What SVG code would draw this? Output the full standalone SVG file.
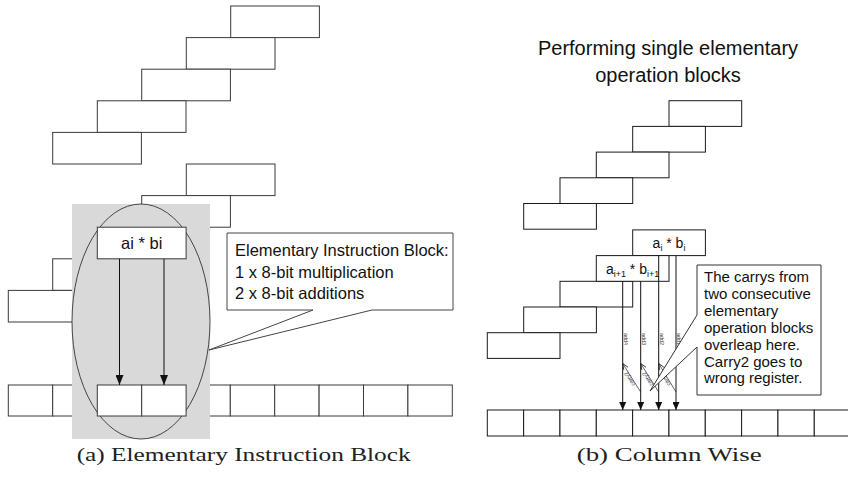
<svg xmlns="http://www.w3.org/2000/svg" width="848" height="477" viewBox="0 0 848 477">
<defs>
<style>
.blk{fill:#fff;stroke:#3a3a3a;stroke-width:1}
.rblk{fill:#fff;stroke:#1a1a1a;stroke-width:1}
.t{font-family:"Liberation Sans",Arial,sans-serif;fill:#111}
.cap{font-family:"Liberation Serif","Times New Roman",serif;font-size:18px;fill:#222}
.arr{stroke:#111;stroke-width:1;fill:none}
.lbl{font-family:"Liberation Sans",Arial,sans-serif;font-size:5.5px;fill:#333}
.carry{stroke:#222;stroke-width:0.7;fill:none}
</style>
<marker id="ahL" markerUnits="userSpaceOnUse" markerWidth="10" markerHeight="8" viewBox="0 0 10 8" refX="10" refY="4" orient="auto"><path d="M0,0 L10,4 L0,8 Z" fill="#111"/></marker>
<marker id="ahR" markerUnits="userSpaceOnUse" markerWidth="8" markerHeight="7" viewBox="0 0 8 7" refX="8" refY="3.5" orient="auto"><path d="M0,0 L8,3.5 L0,7 Z" fill="#111"/></marker>
<marker id="ahO" markerUnits="userSpaceOnUse" markerWidth="7" markerHeight="6" viewBox="0 0 7 6" refX="6.5" refY="3" orient="auto"><path d="M0.5,0.5 L6.5,3 L0.5,5.5" fill="none" stroke="#222" stroke-width="0.8"/></marker>
</defs>

<!-- LEFT PANEL -->
<g id="stair-left-upper">
<rect class="blk" x="230.7" y="6" width="88.7" height="31.6"/>
<rect class="blk" x="186.3" y="37.6" width="88.7" height="31.6"/>
<rect class="blk" x="141.7" y="69.2" width="88.7" height="31.6"/>
<rect class="blk" x="97.3" y="100.8" width="88.7" height="31.6"/>
<rect class="blk" x="52.7" y="132.4" width="88.7" height="31.6"/>
</g>
<g id="stair-left-lower">
<rect class="blk" x="186.3" y="164" width="88.7" height="31.6"/>
<rect class="blk" x="141.7" y="195.6" width="88.7" height="31.6"/>
<rect class="blk" x="52.7" y="258.8" width="88.7" height="31.6"/>
<rect class="blk" x="8.3" y="290.4" width="88.7" height="31.6"/>
</g>
<g id="row-left">
<rect class="blk" x="8.3" y="385" width="44.4" height="31"/>
<rect class="blk" x="52.7" y="385" width="44.4" height="31"/>
<rect class="blk" x="97.1" y="385" width="44.4" height="31"/>
<rect class="blk" x="141.5" y="385" width="44.4" height="31"/>
<rect class="blk" x="185.9" y="385" width="44.4" height="31"/>
<rect class="blk" x="230.3" y="385" width="44.4" height="31"/>
<rect class="blk" x="274.7" y="385" width="44.4" height="31"/>
<rect class="blk" x="319.1" y="385" width="44.4" height="31"/>
<rect class="blk" x="363.5" y="385" width="44.4" height="31"/>
<rect class="blk" x="407.9" y="385" width="44.4" height="31"/>
</g>
<g id="highlight">
<rect x="72" y="204" width="138" height="235" fill="#d9d9d9"/>
<ellipse cx="141" cy="321.5" rx="69" ry="117.5" fill="none" stroke="#333" stroke-width="0.9"/>
</g>
<g id="target-cells">
<rect class="blk" x="97.3" y="385" width="44.4" height="31"/>
<rect class="blk" x="141.7" y="385" width="44.4" height="31"/>
</g>
<g id="aibi">
<rect class="blk" x="97.3" y="227.2" width="88.8" height="31.6"/>
<text class="t" x="141.7" y="249" font-size="16.5" text-anchor="middle">ai * bi</text>
</g>
<g id="callout-left">
<path d="M227,233 H453 V310 H372 L209,350 L313,310 H227 Z" fill="#fff" stroke="#444" stroke-width="1"/>
<text class="t" x="235" y="256" font-size="16.5">Elementary Instruction Block:</text>
<text class="t" x="235" y="278" font-size="16.5">1 x 8-bit multiplication</text>
<text class="t" x="235" y="299" font-size="16.5">2 x 8-bit additions</text>
</g>

<!-- RIGHT PANEL -->
<g id="title-right">
<text class="t" x="668" y="55" font-size="20" text-anchor="middle">Performing single elementary</text>
<text class="t" x="668" y="82" font-size="20" text-anchor="middle">operation blocks</text>
</g>
<g id="stair-right-upper">
<rect class="rblk" x="669" y="100.7" width="72.7" height="25.7"/>
<rect class="rblk" x="632.7" y="126.4" width="72.7" height="25.7"/>
<rect class="rblk" x="596.3" y="152.1" width="72.7" height="25.7"/>
<rect class="rblk" x="560" y="177.8" width="72.7" height="25.7"/>
<rect class="rblk" x="523.7" y="203.5" width="72.7" height="25.7"/>
</g>
<g id="stair-right-lower">
<rect class="rblk" x="560" y="281.3" width="72.7" height="25.7"/>
<rect class="rblk" x="523.7" y="307" width="72.7" height="25.7"/>
<rect class="rblk" x="487.3" y="332.7" width="72.7" height="25.7"/>
</g>
<g id="ai-bi">
<rect class="rblk" x="632.7" y="229.9" width="72.7" height="25.7"/>
<text class="t" x="669" y="248" font-size="14" text-anchor="middle">a<tspan font-size="9" dy="3">i</tspan><tspan dy="-3"> * b</tspan><tspan font-size="9" dy="3">i</tspan></text>
</g>
<g id="ai1-bi1">
<rect class="rblk" x="596.3" y="255.6" width="72.7" height="25.7"/>
<text class="t" x="632.6" y="273.5" font-size="14" text-anchor="middle">a<tspan font-size="9" dy="3">i+1</tspan><tspan dy="-3"> * b</tspan><tspan font-size="9" dy="3">i+1</tspan></text>
</g>
<g id="row-right">
<rect class="rblk" x="487.3" y="410" width="36.33" height="26"/>
<rect class="rblk" x="523.63" y="410" width="36.33" height="26"/>
<rect class="rblk" x="559.96" y="410" width="36.33" height="26"/>
<rect class="rblk" x="596.29" y="410" width="36.33" height="26"/>
<rect class="rblk" x="632.62" y="410" width="36.33" height="26"/>
<rect class="rblk" x="668.95" y="410" width="36.33" height="26"/>
<rect class="rblk" x="705.28" y="410" width="36.33" height="26"/>
<rect class="rblk" x="741.61" y="410" width="36.33" height="26"/>
<rect class="rblk" x="777.94" y="410" width="36.33" height="26"/>
<rect class="rblk" x="814.27" y="410" width="36.33" height="26"/>
</g>

<g id="connectors">
<line class="arr" x1="119.5" y1="258.8" x2="119.5" y2="385" marker-end="url(#ahL)"/>
<line class="arr" x1="164" y1="258.8" x2="164" y2="385" marker-end="url(#ahL)"/>
<line class="arr" x1="622.7" y1="281.3" x2="622.7" y2="410" marker-end="url(#ahR)"/>
<line class="arr" x1="640.7" y1="281.3" x2="640.7" y2="410" marker-end="url(#ahR)"/>
<line class="arr" x1="658.7" y1="255.6" x2="658.7" y2="410" marker-end="url(#ahR)"/>
<line class="arr" x1="676" y1="255.6" x2="676" y2="410" marker-end="url(#ahR)"/>
<text class="lbl" transform="translate(623.7,339) rotate(90)" text-anchor="middle">add4</text>
<text class="lbl" transform="translate(641.7,339) rotate(90)" text-anchor="middle">add3</text>
<text class="lbl" transform="translate(659.7,339) rotate(90)" text-anchor="middle">add2</text>
<text class="lbl" transform="translate(677,339) rotate(90)" text-anchor="middle">add1</text>
<line class="carry" x1="640.7" y1="392" x2="622.7" y2="363.5" marker-end="url(#ahO)"/>
<line class="carry" x1="658.7" y1="392" x2="640.7" y2="363.5" marker-end="url(#ahO)"/>
<line class="carry" x1="676" y1="392" x2="658.7" y2="363.5" marker-end="url(#ahO)"/>
<text class="lbl" transform="translate(631.7,377.7) rotate(-122.3)" text-anchor="middle" dy="-0.6">carry2</text>
<text class="lbl" transform="translate(649.7,377.7) rotate(-122.3)" text-anchor="middle" dy="-0.6">carry2</text>
<text class="lbl" transform="translate(667.3,377.7) rotate(-121.3)" text-anchor="middle" dy="-0.6">carry1</text>
</g>

<g id="callout-right">
<path d="M697,265 H821 V395 H697 V347 L650,391 L697,315 Z" fill="#fff" stroke="#333" stroke-width="1"/>
<text class="t" x="704" y="282.3" font-size="15">The carrys from</text>
<text class="t" x="704" y="299.1" font-size="15">two consecutive</text>
<text class="t" x="704" y="316" font-size="15">elementary</text>
<text class="t" x="704" y="332.8" font-size="15">operation blocks</text>
<text class="t" x="704" y="349.6" font-size="15">overleap here.</text>
<text class="t" x="704" y="366.5" font-size="15">Carry2 goes to</text>
<text class="t" x="704" y="383.3" font-size="15">wrong register.</text>
</g>

<g id="captions">
<text class="cap" x="76.7" y="461" textLength="334" lengthAdjust="spacingAndGlyphs">(a) Elementary Instruction Block</text>
<text class="cap" x="576.7" y="461" textLength="185" lengthAdjust="spacingAndGlyphs">(b) Column Wise</text>
</g>
</svg>
